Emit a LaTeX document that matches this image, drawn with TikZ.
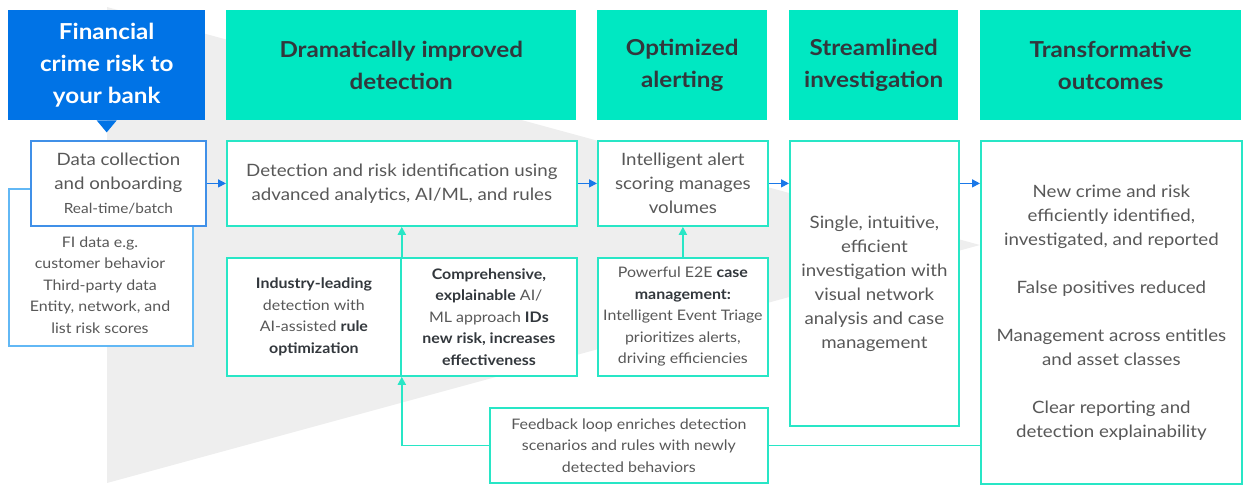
\documentclass[tikz,border=0pt]{standalone}
\usepackage{fontspec}
\setmainfont{Lato}[FakeStretch=1.1]
\usetikzlibrary{arrows.meta}
\usetikzlibrary{positioning}
\definecolor{RiskBlue}{RGB}{0,115,230}
\definecolor{StageGreen}{RGB}{0,232,194}
\definecolor{EdgeGreen}{RGB}{40,230,198}
\definecolor{EdgeBlue}{RGB}{64,144,232}
\definecolor{EdgeSky}{RGB}{98,184,245}
\definecolor{ArrowBlue}{RGB}{26,120,232}
\definecolor{FunnelGray}{RGB}{238,238,238}
\definecolor{HeadText}{RGB}{50,55,60}
\definecolor{BodyText}{RGB}{88,88,88}
\newcommand{\headfont}{\fontsize{22}{32}\selectfont\bfseries}
\newcommand{\bigfont}{\fontsize{17}{24}\selectfont}
\newcommand{\smallfont}{\fontsize{14.5}{21.5}\selectfont}
\newcommand{\keyword}[1]{\textbf{\color{HeadText}#1}}
\tikzset{
  stagehead/.style={rectangle, inner sep=0pt, anchor=north west, minimum height=110pt, fill=StageGreen, text=HeadText, font=\headfont, align=center},
  panelbox/.style={rectangle, inner sep=0pt, anchor=north west, draw=EdgeGreen, line width=1.8pt, fill=white, text=BodyText, align=center},
  flowarrow/.style={-{Triangle[length=8pt,width=8pt]}, line width=1.5pt, draw=ArrowBlue},
  backline/.style={line width=1.8pt, draw=EdgeGreen},
  backarrow/.style={backline, -{Triangle[length=8pt,width=8pt]}}
}

\begin{document}
\begin{tikzpicture}[x=1pt, y=-1pt]
  \useasboundingbox (0,0) rectangle (1243,485);
  % funnel backdrop:
  \fill[FunnelGray] (107,7) -- (980,245) -- (107,483) -- cycle;
  %
  % stage headers
  \node [stagehead, fill=RiskBlue, text=white, minimum width=197pt] (risk) at (8,10) {Financial\\crime risk to\\your bank};
  \fill[RiskBlue] ([xshift=-10pt]risk.south) -- ([xshift=10pt]risk.south) -- ([yshift=-12pt]risk.south) -- cycle;
  \node [stagehead, minimum width=350pt] (detecthead) at (226,10) {Dramatically improved\\detection};
  \node [stagehead, minimum width=170pt] (alerthead) at (597,10) {Optimized\\alerting};
  \node [stagehead, minimum width=169pt] (investhead) at (789,10) {Streamlined\\investigation};
  \node [stagehead, minimum width=261pt] (outhead) at (980,10) {Transformative\\outcomes};
  %
  % data sources
  \node [panelbox, draw=EdgeSky, minimum width=184pt, minimum height=157pt] (fi) at (8,188) {};
  \node [font=\smallfont, text=BodyText, align=center] (fitext) at (100,285) {FI data e.g.\\customer behavior\\Third-party data\\Entity, network, and\\list risk scores};
  \node [panelbox, draw=EdgeBlue, minimum width=175pt, minimum height=85pt, font=\bigfont] (data) at (30,140) {Data collection\\and onboarding\\{\fontsize{14}{21}\selectfont Real-time/batch}};
  %
  % detection
  \node [panelbox, minimum width=350pt, minimum height=85pt, font=\bigfont] (detect) at (226,140) {Detection and risk identification using\\advanced analytics, AI/ML, and rules};
  \node [panelbox, minimum width=174pt, minimum height=118pt, font=\smallfont] (rules) at (226,257) {\keyword{Industry-leading}\\detection with\\AI-assisted \keyword{rule}\\\keyword{optimization}};
  \node [panelbox, minimum width=176pt, minimum height=118pt, font=\smallfont] (aiml) at (400,257) {\keyword{Comprehensive,}\\\keyword{explainable} AI/\\ML approach \keyword{IDs}\\\keyword{new risk, increases}\\\keyword{effectiveness}};
  %
  % alerting
  \node [panelbox, minimum width=170pt, minimum height=85pt, font=\bigfont] (alert) at (597,140) {Intelligent alert\\scoring manages\\volumes};
  \node [panelbox, minimum width=170pt, minimum height=118pt, font=\smallfont] (case) at (597,257) {Powerful E2E \keyword{case}\\\keyword{management:}\\Intelligent Event Triage\\prioritizes alerts,\\driving efficiencies};
  %
  % investigation and outcomes
  \node [panelbox, minimum width=169pt, minimum height=285pt, font=\bigfont] (invest) at (789,140) {Single, intuitive,\\efficient\\investigation with\\visual network\\analysis and case\\management};
  \node [panelbox, minimum width=261pt, minimum height=343pt, font=\bigfont] (outcome) at (980,140) {New crime and risk\\efficiently identified,\\investigated, and reported\\[24pt]False positives reduced\\[24pt]Management across entitles\\and asset classes\\[24pt]Clear reporting and\\detection explainability};
  \node [panelbox, minimum width=278pt, minimum height=75pt, font=\smallfont] (feedback) at (489,407) {Feedback loop enriches detection\\scenarios and rules with newly\\detected behaviors};
  %
  % connectors
  \draw [flowarrow] (data.east) -- (detect.west);
  \draw [flowarrow] (detect.east) -- (alert.west);
  \draw [flowarrow] (alert.east) -- (alert.east -| invest.west);
  \draw [flowarrow] (alert.east -| invest.east) -- (alert.east -| outcome.west);
  \draw [backarrow] (case.north) -- (alert.south);
  \draw [backarrow] (rules.north east) -- (rules.north east |- detect.south);
  \draw [backline] (feedback.east -| outcome.west) -- (feedback.east);
  \draw [backarrow] (feedback.west) -| (rules.south east);
\end{tikzpicture}
\end{document}
